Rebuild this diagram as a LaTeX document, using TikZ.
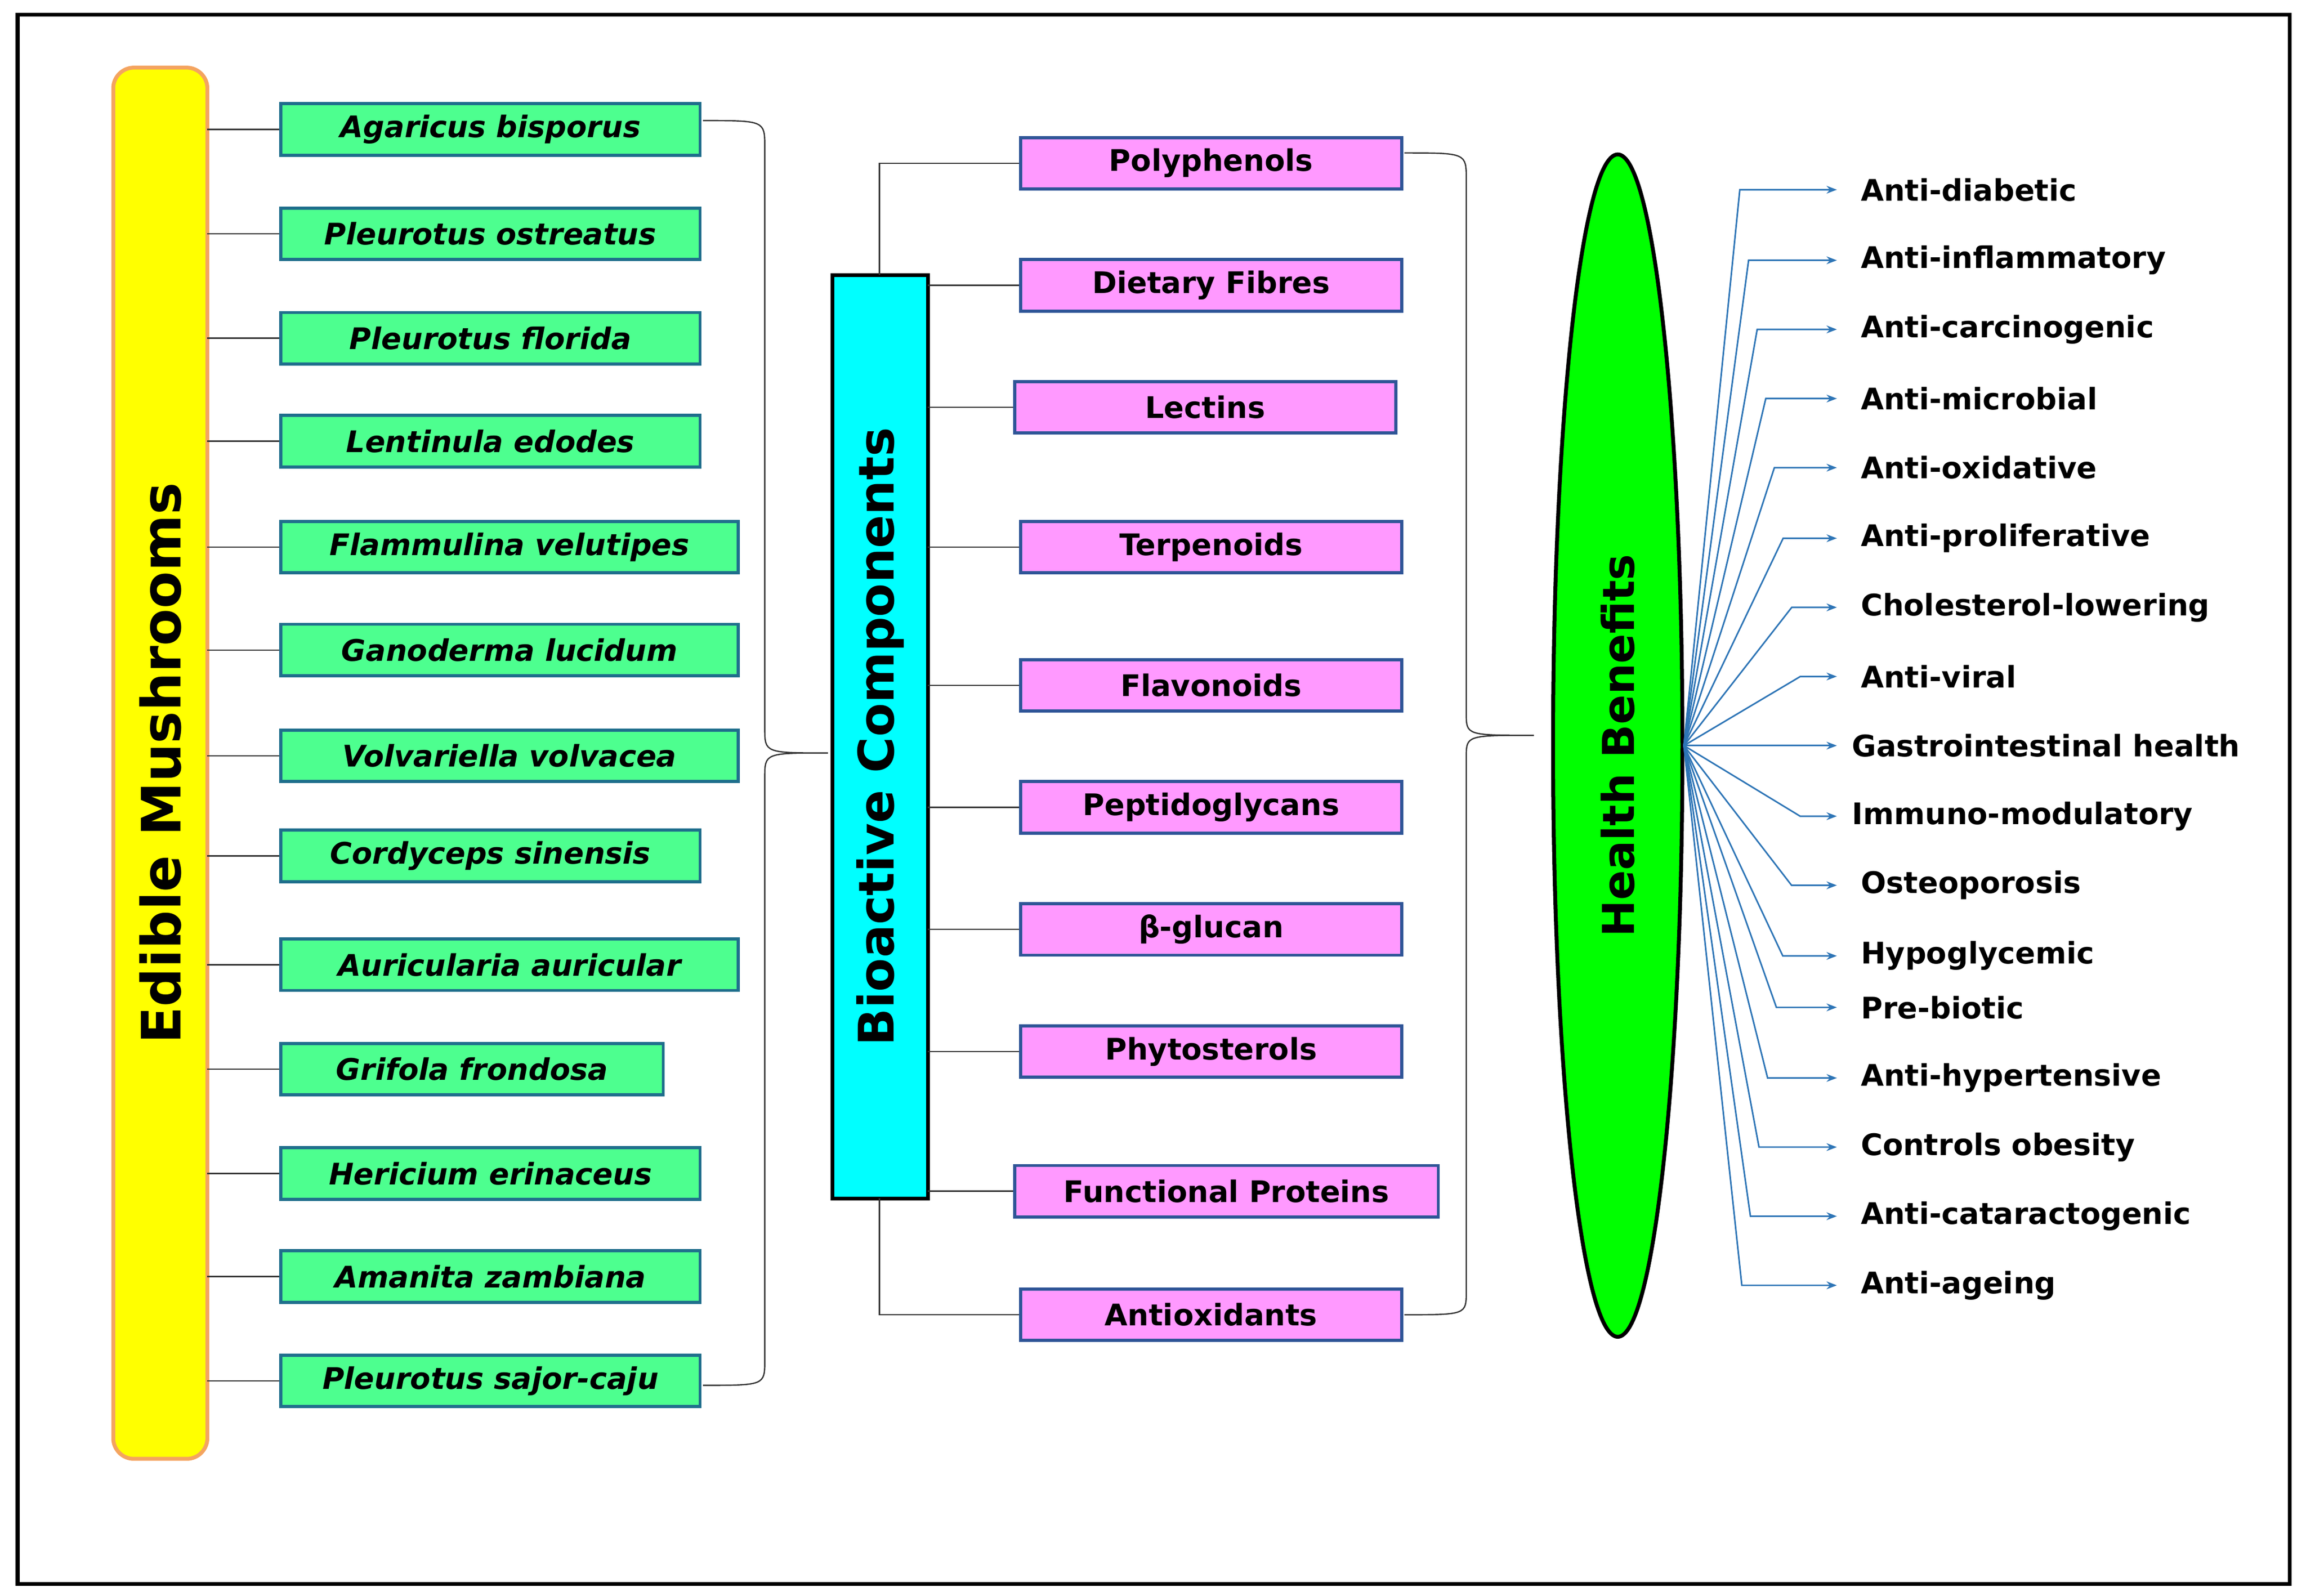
\documentclass[tikz,border=0pt]{standalone}
\usepackage{fontspec}
\setmainfont{DejaVu Sans}
\usetikzlibrary{shapes.geometric,arrows.meta}
\definecolor{gfill}{HTML}{4DFF8F}
\definecolor{gbord}{HTML}{1F6E8C}
\definecolor{pfill}{HTML}{FF99FF}
\definecolor{pbord}{HTML}{2F5597}
\definecolor{ybord}{HTML}{F4A460}
\definecolor{cfill}{HTML}{00FFFF}
\definecolor{yfill}{HTML}{FFFF00}
\definecolor{efill}{HTML}{00FF00}
\definecolor{arr}{HTML}{2E75B6}
\begin{document}
\begin{tikzpicture}[x=0.02cm,y=-0.02cm,
  gbox/.style={draw=gbord,line width=1.2pt,fill=gfill,minimum height=0.7cm,inner sep=0pt,font=\fontsize{11.5}{13}\selectfont\bfseries\itshape},
  pbox/.style={draw=pbord,line width=1.2pt,fill=pfill,minimum height=0.7cm,inner sep=0pt,font=\fontsize{11.5}{13}\selectfont\bfseries},
  lab/.style={anchor=west,inner sep=0pt,font=\fontsize{11.5}{13}\selectfont\bfseries},
  conn/.style={draw=black!80,line width=0.5pt},
  big/.style={rotate=90,font=\bfseries}]
\useasboundingbox (0,0) rectangle (1568,1085);
\draw[line width=1.5pt] (12,10) rectangle (1557,1077);
% yellow
\node[draw=ybord,line width=1.5pt,fill=yfill,rounded corners=8pt,minimum width=64*0.02cm,minimum height=946*0.02cm] (em) at (109,519) {};
\node[big,font=\fontsize{21}{24}\selectfont\bfseries] (emt) at (109,519) {Edible Mushrooms};
% cyan
\node[draw=black,line width=1.5pt,fill=cfill,minimum width=65*0.02cm,minimum height=628*0.02cm,inner sep=0pt] (bc) at (598.5,501) {};
\node[big,font=\fontsize{19}{22}\selectfont\bfseries] (bct) at (598.5,501) {Bioactive Components};
% ellipse
\node[draw=black,line width=1.5pt,fill=efill,ellipse,minimum width=88*0.02cm,minimum height=804*0.02cm,inner sep=0pt] (hb) at (1100,507) {};
\node[big,font=\fontsize{17}{20}\selectfont\bfseries] (hbt) at (1100,507) {Health Benefits};
% green boxes
\foreach \y/\r/\t [count=\i] in {88/476/Agaricus bisporus,159/476/Pleurotus ostreatus,230/476/Pleurotus florida,300/476/Lentinula edodes,372/502/Flammulina velutipes,442/502/Ganoderma lucidum,514/502/Volvariella volvacea,582/476/Cordyceps sinensis,656/502/Auricularia auricular,727/451/Grifola frondosa,798/476/Hericium erinaceus,868/476/Amanita zambiana,939/476/Pleurotus sajor-caju}{
  \pgfmathsetmacro\w{(\r-191)*0.02}
  \node[gbox,minimum width=\w cm] (g\i) at ({(191+\r)/2},\y) {\t};
  \coordinate (e\i) at (141,\y);
  \draw[conn] (e\i) -- (g\i.west);
}
% pink boxes
\foreach \y/\l/\r/\t [count=\i] in {111/694/953/Polyphenols,194/694/953/Dietary Fibres,277/690/949/Lectins,372/694/953/Terpenoids,466/694/953/Flavonoids,549/694/953/Peptidoglycans,632/694/953/β-glucan,715/694/953/Phytosterols,810/690/978/Functional Proteins,894/694/953/Antioxidants}{
  \pgfmathsetmacro\w{(\r-\l)*0.02}
  \node[pbox,minimum width=\w cm] (p\i) at ({(\l+\r)/2},\y) {\t};
}
\foreach \i/\y in {2/194,3/277,4/372,5/466,6/549,7/632,8/715,9/810}{
  \coordinate (c\i) at (631,\y);
  \draw[conn] (c\i) -- (p\i.west);
}
\coordinate (ct) at (598,187); \coordinate (cb) at (598,815);
\draw[conn] (ct) |- (p1.west);
\draw[conn] (cb) |- (p10.west);
% braces
\draw[conn] (478,82) .. controls (520,82) .. (520,100) -- (520,495) .. controls (520,512) .. (563,512)
  .. controls (520,512) .. (520,529) -- (520,925) .. controls (520,942) .. (478,942);
\draw[conn] (955,104) .. controls (997,104) .. (997,122) -- (997,485) .. controls (997,500) .. (1043,500)
  .. controls (997,500) .. (997,515) -- (997,878) .. controls (997,894) .. (955,894);
% benefits
\coordinate (hc) at (1145,507);
\foreach \y/\t [count=\i] in {129/Anti-diabetic,177/Anti-inflammatory,224/Anti-carcinogenic,271/Anti-microbial,318/Anti-oxidative,366/Anti-proliferative,413/Cholesterol-lowering,460/Anti-viral,507/Gastrointestinal health,555/Immuno-modulatory,602/Osteoporosis,650/Hypoglycemic,685/Pre-biotic,733/Anti-hypertensive,780/Controls obesity,827/Anti-cataractogenic,874/Anti-ageing}{
  \pgfmathsetmacro\bx{1183+47*(1-abs(\y-507)/378)}
  \pgfmathsetmacro\lx{\y==507 ? 1259 : (\y==555 ? 1259 : 1265)}
  \node[lab] (b\i) at (\lx,\y) {\t};
  \coordinate (k\i) at (\bx,\y);
  \coordinate (t\i) at (1249,\y);
  \draw[arr,line width=0.6pt,-{Stealth[length=4pt,width=3pt]}] (hc) -- (k\i) -- (t\i);
}
\end{tikzpicture}
\end{document}
